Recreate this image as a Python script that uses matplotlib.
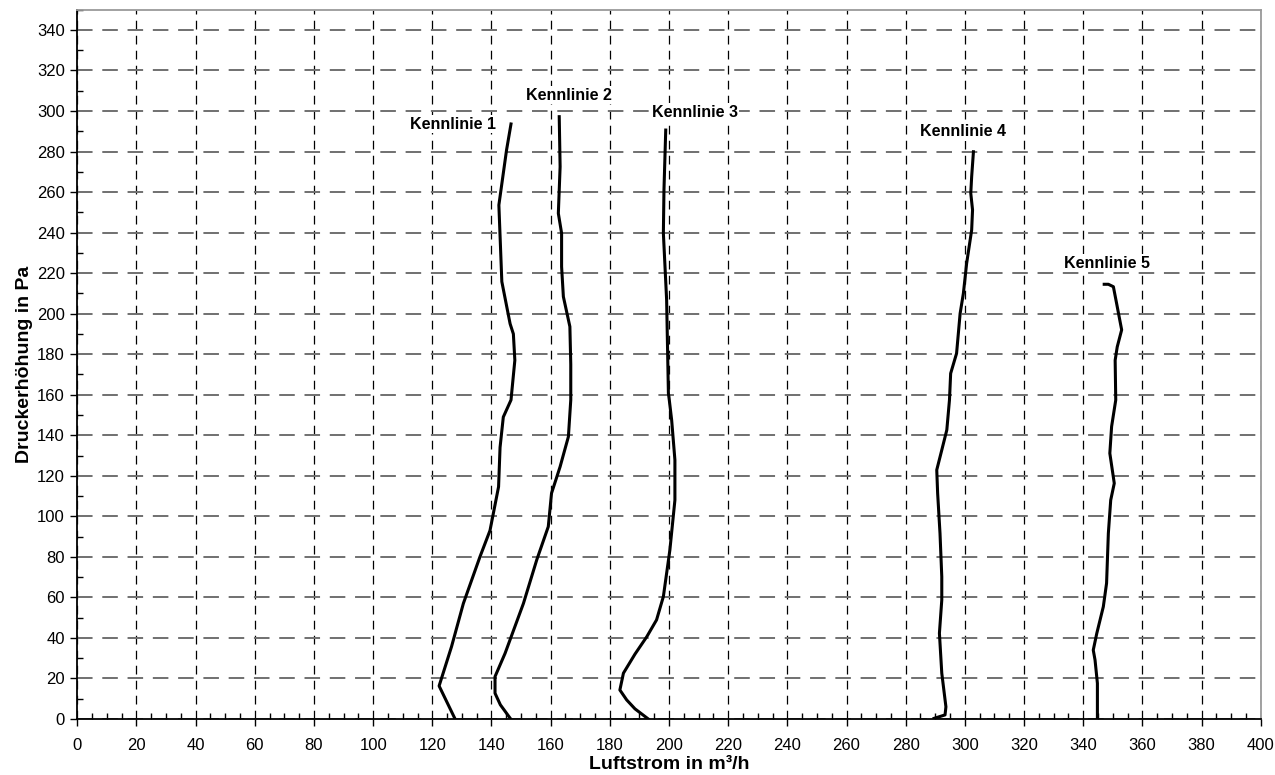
import matplotlib
matplotlib.use("Agg")
import matplotlib.pyplot as plt
from matplotlib.ticker import MultipleLocator

plt.rcParams['font.family'] = ['Liberation Sans', 'DejaVu Sans']

# Kennlinien: Luftstrom (m³/h) und Druckerhöhung (Pa)
k1_x = [127.7, 122.3, 126.5, 130.5, 136.1, 139.5, 142.4, 142.9, 144.0, 146.6, 147.9, 147.4, 146.3, 143.5, 142.5, 145.1, 146.6]
k1_y = [0, 16.3, 35.7, 57, 80, 93, 114.6, 134, 149, 157.4, 177, 190, 195, 215.8, 253.6, 280.8, 293.6]

k2_x = [146.5, 143.0, 141.2, 141.2, 144.6, 150.8, 155.3, 159.2, 160.3, 163.2, 166.0, 166.8, 166.8, 166.5, 164.3, 163.7, 163.7, 162.6, 163.2, 162.9]
k2_y = [0, 7, 12.7, 20.9, 32.4, 57, 78.5, 94.9, 111.4, 124.5, 139.3, 157.4, 175, 193.6, 208.4, 223.2, 239.7, 249.5, 272.5, 297.2]

k3_x = [193.0, 188.5, 185.7, 183.4, 184.6, 188.5, 192.5, 195.8, 198.1, 200.3, 202.0, 202.0, 200.9, 200.1, 199.8, 199.2, 198.1, 198.3, 198.9]
k3_y = [0, 5, 9.4, 14.3, 22.6, 32, 40.6, 48.9, 60.4, 83.4, 108, 127.8, 147.5, 157.4, 160.7, 206.8, 239.7, 261, 290.6]

k4_x = [289.6, 293.3, 293.6, 292.2, 291.4, 292.2, 292.2, 291.6, 290.8, 290.5, 292.2, 293.9, 294.8, 295.2, 297.2, 298.4, 299.5, 300.6, 302.3, 302.6, 302.0, 302.3, 302.9]
k4_y = [0.3, 2, 6, 22.6, 42.3, 58.7, 70.2, 91.6, 111.4, 122.9, 132.7, 142.6, 157.4, 170.5, 180.4, 200.1, 210, 224.8, 241.3, 251.2, 259.4, 267.6, 279.9]

k5_x = [344.8, 344.8, 344.0, 343.4, 344.6, 346.8, 347.9, 348.5, 349.3, 350.5, 349.0, 349.6, 351.0, 350.8, 351.5, 353.0, 351.3, 350.2, 348.5, 347.1]
k5_y = [0, 17.6, 29.1, 34, 42.3, 55.4, 67, 91.6, 108, 116.3, 131.1, 144.3, 157.4, 177, 183.6, 192, 205, 213.3, 214.5, 214.5]

labels = ["Kennlinie 1", "Kennlinie 2", "Kennlinie 3", "Kennlinie 4", "Kennlinie 5"]
label_x = [127, 166.2, 208.7, 299.5, 348.1]
label_y = [293.4, 307.8, 299.3, 289.7, 225]

fig = plt.figure(figsize=(12.75, 7.75), dpi=100)
ax = fig.add_axes([0.0606, 0.0723, 0.9282, 0.9152])

for xs, ys in [(k1_x, k1_y), (k2_x, k2_y), (k3_x, k3_y), (k4_x, k4_y), (k5_x, k5_y)]:
    ax.plot(xs, ys, color='black', lw=2.2, solid_joinstyle='round', zorder=3)

for t, x, y in zip(labels, label_x, label_y):
    ax.text(x, y, t, ha='center', va='center', fontsize=11.5, fontweight='bold',
            bbox=dict(facecolor='white', edgecolor='none', pad=1), zorder=4)

ax.set_xlim(0, 400)
ax.set_ylim(0, 350)
ax.xaxis.set_major_locator(MultipleLocator(20))
ax.xaxis.set_minor_locator(MultipleLocator(5))
ax.yaxis.set_minor_locator(MultipleLocator(10))
ax.set_yticks(range(0, 341, 20))

ax.tick_params(axis='both', which='major', direction='out', length=5, width=1, labelsize=12)
ax.tick_params(axis='x', which='major', pad=9)
ax.tick_params(axis='y', which='major', pad=4)
ax.tick_params(axis='both', which='minor', direction='in', length=4, width=1)

ax.grid(axis='x', which='major', color='black', linestyle=(0, (7, 5)), lw=0.9, zorder=1)
ax.grid(axis='y', which='major', color='#707070', linestyle=(0, (8, 5)), lw=1.4, zorder=1)

for s in ['bottom', 'left']:
    ax.spines[s].set_color('black')
    ax.spines[s].set_linewidth(1.3)
for s in ['top', 'right']:
    ax.spines[s].set_color('#9a9a9a')
    ax.spines[s].set_linewidth(1.3)

ax.set_xlabel('Luftstrom in m³/h', fontsize=14, fontweight='bold', labelpad=2)
ax.set_ylabel('Druckerhöhung in Pa', fontsize=14, fontweight='bold', labelpad=3)

fig.savefig('out.png', dpi=100)
